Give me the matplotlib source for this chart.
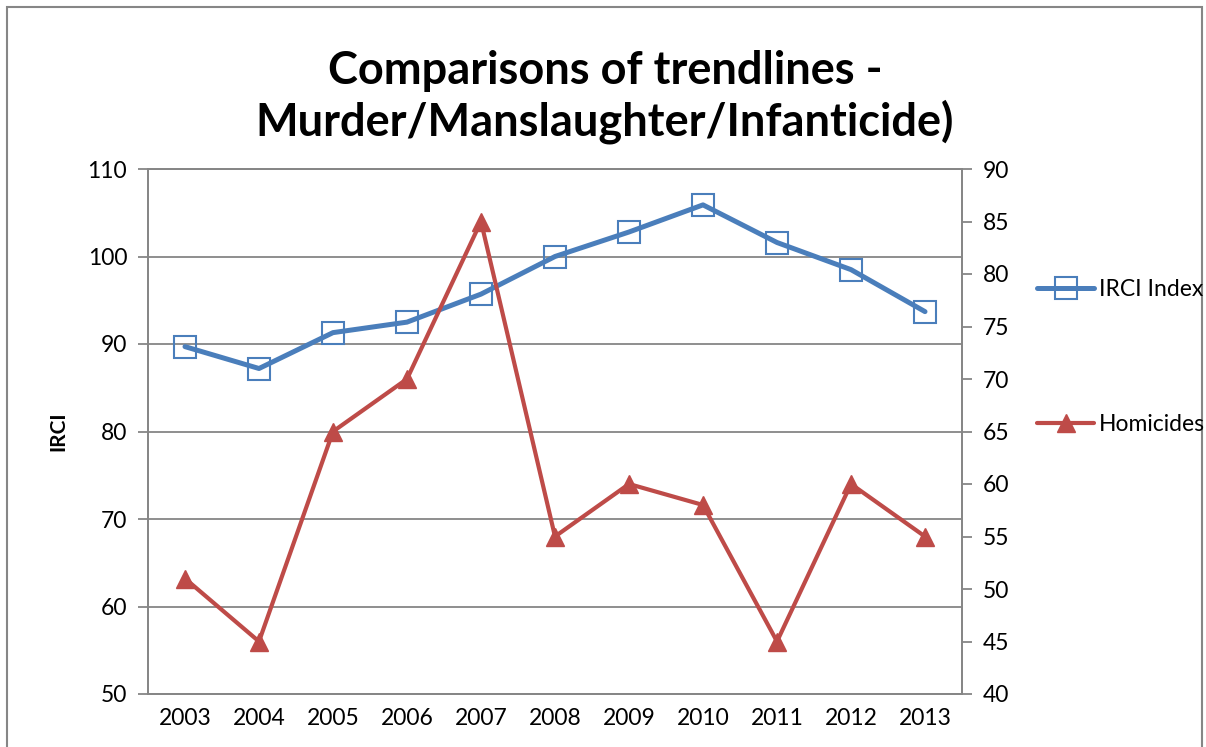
import matplotlib
matplotlib.use("Agg")
import matplotlib.pyplot as plt
from matplotlib.patches import Rectangle

plt.rcParams['font.family'] = ['Lato', 'DejaVu Sans']

years = ['2003', '2004', '2005', '2006', '2007', '2008', '2009', '2010', '2011', '2012', '2013']
irci = [89.7, 87.2, 91.3, 92.5, 95.7, 100.0, 102.8, 105.9, 101.6, 98.5, 93.7]
homicides = [51, 45, 65, 70, 85, 55, 60, 58, 45, 60, 55]

blue = '#4A7EBB'
red = '#BE4B48'
grey = '#868686'

fig = plt.figure(figsize=(12.06, 7.47), dpi=100)
ax = fig.add_axes([148/1206, 1 - 694/747, (962-148)/1206, (694-169)/747])
ax2 = ax.twinx()

x = list(range(len(years)))
ax.plot(x, irci, color=blue, lw=3.6, marker='s', ms=16, mfc='none',
        mec=blue, mew=1.5, label='IRCI Index', solid_capstyle='round')
ax2.plot(x, homicides, color=red, lw=3.0, marker='^', ms=13, mfc=red,
         mec=red, label='Homicides', solid_capstyle='round')

ax.set_xlim(-0.5, len(years) - 0.5)
ax.set_ylim(50, 110)
ax.set_yticks(range(50, 111, 10))
ax2.set_ylim(40, 90)
ax2.set_yticks(range(40, 91, 5))
ax.set_xticks(x)
ax.set_xticklabels(years)

ax.yaxis.grid(True, color=grey, lw=1.3)
ax.set_axisbelow(True)
for a in (ax, ax2):
    for s in a.spines.values():
        s.set_color(grey)
        s.set_linewidth(1.3)
    a.tick_params(labelsize=16.5, color=grey, width=1.3, length=7)
ax.tick_params(axis='x', length=0, pad=10)
ax.tick_params(axis='y', pad=8)
ax2.tick_params(axis='y', pad=8)

ax.set_ylabel('IRCI', fontsize=15, fontweight='bold', labelpad=14)

fig.suptitle('Comparisons of trendlines -\nMurder/Manslaughter/Infanticide)',
             x=605/1206, y=1 - 50/747, fontsize=32.5, fontweight='bold',
             linespacing=1.2, va='top')

h1, l1 = ax.get_legend_handles_labels()
h2, l2 = ax2.get_legend_handles_labels()
fig.legend(h1 + h2, l1 + l2, loc='center left', bbox_to_anchor=(1028/1206, 1 - 357/747),
           frameon=False, fontsize=16.5, labelspacing=5.0, handlelength=2.5,
           handletextpad=0.2, borderaxespad=0)

fig.patches.append(Rectangle((7/1206, -0.1), (1202-7)/1206, 1.1 - 7/747,
                             transform=fig.transFigure, fill=False,
                             edgecolor=grey, lw=1.5))

fig.savefig('out.png', dpi=100)
